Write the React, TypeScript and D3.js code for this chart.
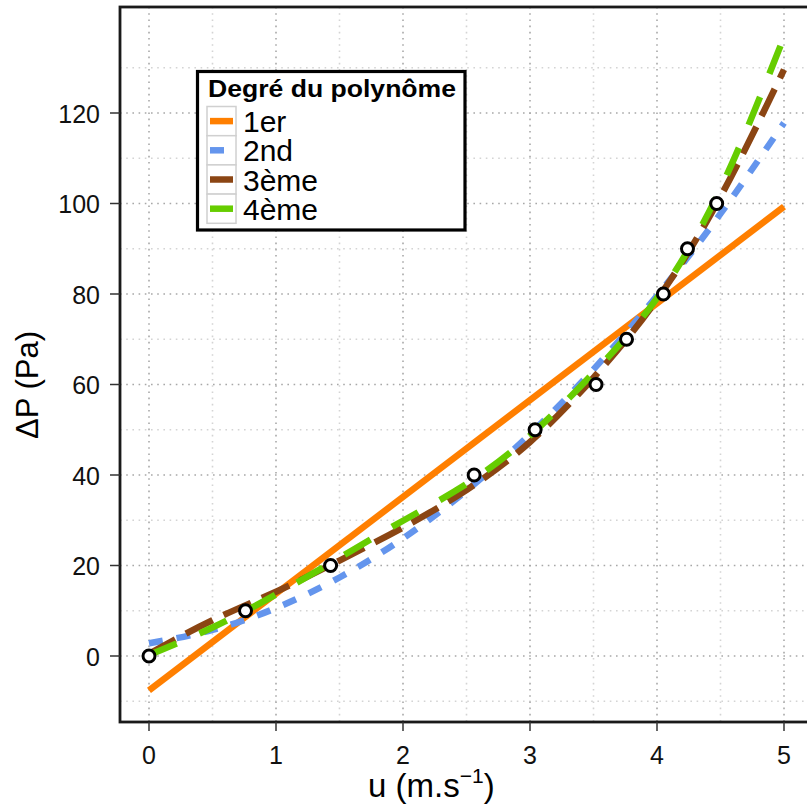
import React from "react";
import * as d3 from "d3";

// ---- data ----
const measU = [0, 0.76, 1.43, 2.56, 3.04, 3.52, 3.76, 4.05, 4.24, 4.47];
const measDP = [0, 10, 20, 40, 50, 60, 70, 80, 90, 100];

const fitU1 = [0, 5];
const fit1 = [-7.6, 99.3];

const fitU = [0, 0.5, 1, 1.5, 2, 2.5, 3, 3.5, 4, 4.5, 5];
const fit2 = [2.8, 5.75, 10.6, 17.35, 26.0, 36.55, 49.0, 63.35, 79.6, 97.75, 117.8];
const fit3 = [0.5, 7.9, 14.2, 21.1, 28.4, 36.7, 47.3, 61.5, 78.8, 101.5, 129.6];
const fit4 = [0.2, 6.3, 13.6, 21.7, 29.9, 38.0, 48.7, 62.6, 79.1, 103.3, 136.8];

const xTicks = [0, 1, 2, 3, 4, 5];
const xMinor = [0.5, 1.5, 2.5, 3.5, 4.5];
const yTicks = [0, 20, 40, 60, 80, 100, 120];
const yMinor = [-10, 10, 30, 50, 70, 90, 110, 130];

const legendTitle = "Degré du polynôme";
const seriesNames = ["1er", "2nd", "3ème", "4ème"];
const seriesColors = ["#FF7F00", "#6495ED", "#8B4513", "#66CD00"];
const seriesDash = ["none", "14,14", "30,12", "30,25"];

const FONT = "'Liberation Sans', Arial, Helvetica, sans-serif";

export default function App() {
  const W = 807, H = 805;
  const left = 120, top = 7, right = 840, bottom = 722;
  const x = d3.scaleLinear().domain([0, 5]).range([149, 784]);
  const y = d3.scaleLinear().domain([0, 120]).range([656, 113]);

  const line = d3
    .line<[number, number]>()
    .x((d) => x(d[0]))
    .y((d) => y(d[1]))
    .curve(d3.curveNatural);
  const lin = d3
    .line<[number, number]>()
    .x((d) => x(d[0]))
    .y((d) => y(d[1]));

  const paths = [
    lin(fitU1.map((u, i) => [u, fit1[i]] as [number, number])),
    line(fitU.map((u, i) => [u, fit2[i]] as [number, number])),
    line(fitU.map((u, i) => [u, fit3[i]] as [number, number])),
    line(fitU.map((u, i) => [u, fit4[i]] as [number, number])),
  ];

  const lgX = 197.5, lgY = 71.5, lgW = 267.5, lgH = 158.5;
  const rowH = 29.2;
  const keyX = 207, keyW = 29, rowTop = 106.5;

  return (
    <svg
      width={W}
      height={H}
      style={{ position: "absolute", left: 0, top: 0, background: "#fff" }}
      fontFamily={FONT}
    >
      <rect x={0} y={0} width={W} height={H} fill="#fff" />
      <defs>
        <clipPath id="plotclip">
          <rect x={left} y={top} width={right - left} height={bottom - top} />
        </clipPath>
      </defs>
      {/* minor grid */}
      <g stroke="#d4d4d4" strokeWidth={1.6} strokeDasharray="1.6,4.6">
        {xMinor.map((t) => (
          <line key={"xm" + t} x1={x(t)} x2={x(t)} y1={top} y2={bottom} />
        ))}
        {yMinor.map((t) => (
          <line key={"ym" + t} x1={left} x2={right} y1={y(t)} y2={y(t)} />
        ))}
      </g>
      {/* major grid */}
      <g stroke="#a8a8a8" strokeWidth={1.6} strokeDasharray="1.6,4.6">
        {xTicks.map((t) => (
          <line key={"xg" + t} x1={x(t)} x2={x(t)} y1={top} y2={bottom} />
        ))}
        {yTicks.map((t) => (
          <line key={"yg" + t} x1={left} x2={right} y1={y(t)} y2={y(t)} />
        ))}
      </g>
      {/* fits */}
      <g clipPath="url(#plotclip)" fill="none" strokeWidth={6.5} strokeLinecap="butt">
        {paths.map((p, i) => (
          <path
            key={i}
            d={p || ""}
            stroke={seriesColors[i]}
            strokeDasharray={seriesDash[i]}
          />
        ))}
      </g>
      {/* points */}
      <g>
        {measU.map((u, i) => (
          <circle
            key={i}
            cx={x(u)}
            cy={y(measDP[i])}
            r={6}
            fill="#fff"
            stroke="#000"
            strokeWidth={3}
          />
        ))}
      </g>
      {/* frame */}
      <rect
        x={left}
        y={top}
        width={right - left}
        height={bottom - top}
        fill="none"
        stroke="#1a1a1a"
        strokeWidth={2.8}
      />
      {/* ticks */}
      <g stroke="#333" strokeWidth={1.5}>
        {xTicks.map((t) => (
          <line key={"xt" + t} x1={x(t)} x2={x(t)} y1={bottom} y2={bottom + 9} />
        ))}
        {yTicks.map((t) => (
          <line key={"yt" + t} x1={left - 10} x2={left} y1={y(t)} y2={y(t)} />
        ))}
      </g>
      <g fontSize={25} fill="#111">
        {xTicks.map((t) => (
          <text key={"xl" + t} x={x(t)} y={764} textAnchor="middle">
            {t}
          </text>
        ))}
        {yTicks.map((t) => (
          <text key={"yl" + t} x={100} y={y(t) + 9.5} textAnchor="end">
            {t}
          </text>
        ))}
      </g>
      {/* axis titles */}
      <text x={368} y={797} fontSize={33} fill="#000">
        u (m.s
        <tspan fontSize={21} dy={-14}>
          −1
        </tspan>
        <tspan dy={14}>)</tspan>
      </text>
      <text
        transform={`translate(38,385) rotate(-90)`}
        textAnchor="middle"
        fontSize={31}
        fill="#000"
      >
        ΔP (Pa)
      </text>
      {/* legend */}
      <rect
        x={lgX}
        y={lgY}
        width={lgW}
        height={lgH}
        fill="#fff"
        stroke="#000"
        strokeWidth={3.2}
      />
      <text
        x={208}
        y={97}
        fontSize={23}
        fontWeight="bold"
        textLength={248}
        lengthAdjust="spacingAndGlyphs"
      >
        {legendTitle}
      </text>
      {seriesNames.map((name, i) => {
        const ry = rowTop + i * rowH;
        return (
          <g key={name}>
            <rect
              x={keyX}
              y={ry}
              width={keyW}
              height={rowH}
              fill="#fff"
              stroke="#d0d0d0"
              strokeWidth={1.5}
            />
            <line
              x1={keyX + 3}
              x2={i === 1 ? keyX + 17 : keyX + keyW - 3}
              y1={ry + rowH / 2}
              y2={ry + rowH / 2}
              stroke={seriesColors[i]}
              strokeWidth={6.5}
            />
            <text x={243} y={ry + rowH / 2 + 11} fontSize={30} fill="#000">
              {name}
            </text>
          </g>
        );
      })}
    </svg>
  );
}
